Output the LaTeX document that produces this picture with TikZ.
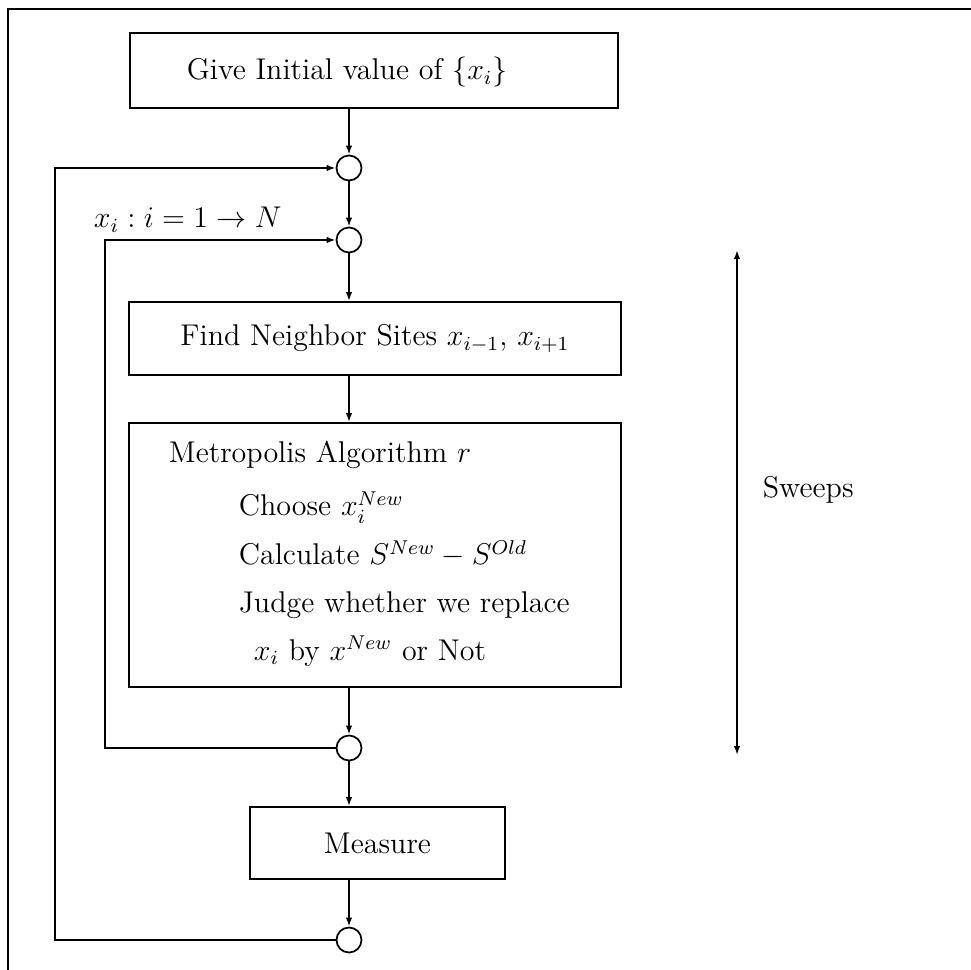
\documentclass[tikz,border=0pt]{standalone}
\usetikzlibrary{arrows.meta}
\begin{document}
\begin{tikzpicture}[x=0.4pt,y=-0.4pt,line width=0.7pt,
  flow/.style={-{Latex[length=3.6pt,width=2.6pt]}},
  sweeparrow/.style={{Latex[length=3.6pt,width=2.6pt]}-{Latex[length=3.6pt,width=2.6pt]}},
  stepbox/.style={draw,rectangle,inner sep=0pt,font=\fontsize{12}{14}\selectfont},
  junction/.style={circle,draw,minimum size=10pt,inner sep=0pt},
  txt/.style={inner sep=0pt,font=\fontsize{12}{14}\selectfont}]
\useasboundingbox (0,0) rectangle (971,970);
% frame lines
\draw (8,970) -- (8,9) -- (971,9);

% process boxes
\node[stepbox,minimum width=195.2pt,minimum height=30pt] (init) at (374,70.5) {};
\node[txt,anchor=base west] (inittxt) at (186,80) {Give Initial value of $\{x_i\}$};

\node[stepbox,minimum width=196.8pt,minimum height=29.2pt] (nbr) at (375,338.5)
  {Find Neighbor Sites $x_{i-1}$, $x_{i+1}$};

\node[stepbox,minimum width=196.8pt,minimum height=105.6pt] (metro) at (375,555) {};
\node[txt,anchor=base west] (m1) at (168,463) {Metropolis Algorithm $r$};
\node[txt,anchor=base west] (m2) at (238,516) {Choose $x_i^{New}$};
\node[txt,anchor=base west] (m3) at (238,565) {Calculate $S^{New}-S^{Old}$};
\node[txt,anchor=base west] (m4) at (238,613) {Judge whether we replace};
\node[txt,anchor=base west] (m5) at (253,660) {$x_i$ by $x^{New}$ or Not};

\node[stepbox,minimum width=102pt,minimum height=28.8pt] (meas) at (377.5,843) {Measure};

% junction circles
\node[junction] (c1) at (349,168) {};
\node[junction] (c2) at (349,240) {};
\node[junction] (c3) at (349,748) {};
\node[junction] (c4) at (349,940) {};

% main flow
\draw[flow] (c1 |- init.south) -- (c1);
\draw[flow] (c1) -- (c2);
\draw[flow] (c2) -- (c2 |- nbr.north);
\draw[flow] (c2 |- nbr.south) -- (c2 |- metro.north);
\draw[flow] (c3 |- metro.south) -- (c3);
\draw[flow] (c3) -- (c3 |- meas.north);
\draw[flow] (c4 |- meas.south) -- (c4);

% loops
\coordinate (outer) at (55,0);
\coordinate (inner) at (105,0);
\draw[flow] (c4.west) -- (outer |- c4) -- (outer |- c1) -- (c1.west);
\draw[flow] (c3.west) -- (inner |- c3) -- (inner |- c2) -- (c2.west);
\node[txt,anchor=base west] (lbl) at (93,228) {$x_i : i = 1 \rightarrow N$};

% sweeps span
\coordinate (swtop) at (737,250);
\coordinate (swbot) at (737,755);
\draw[sweeparrow] (swtop) -- (swbot);
\node[txt,anchor=west] (sw) at (762,490) {Sweeps};
\end{tikzpicture}
\end{document}
